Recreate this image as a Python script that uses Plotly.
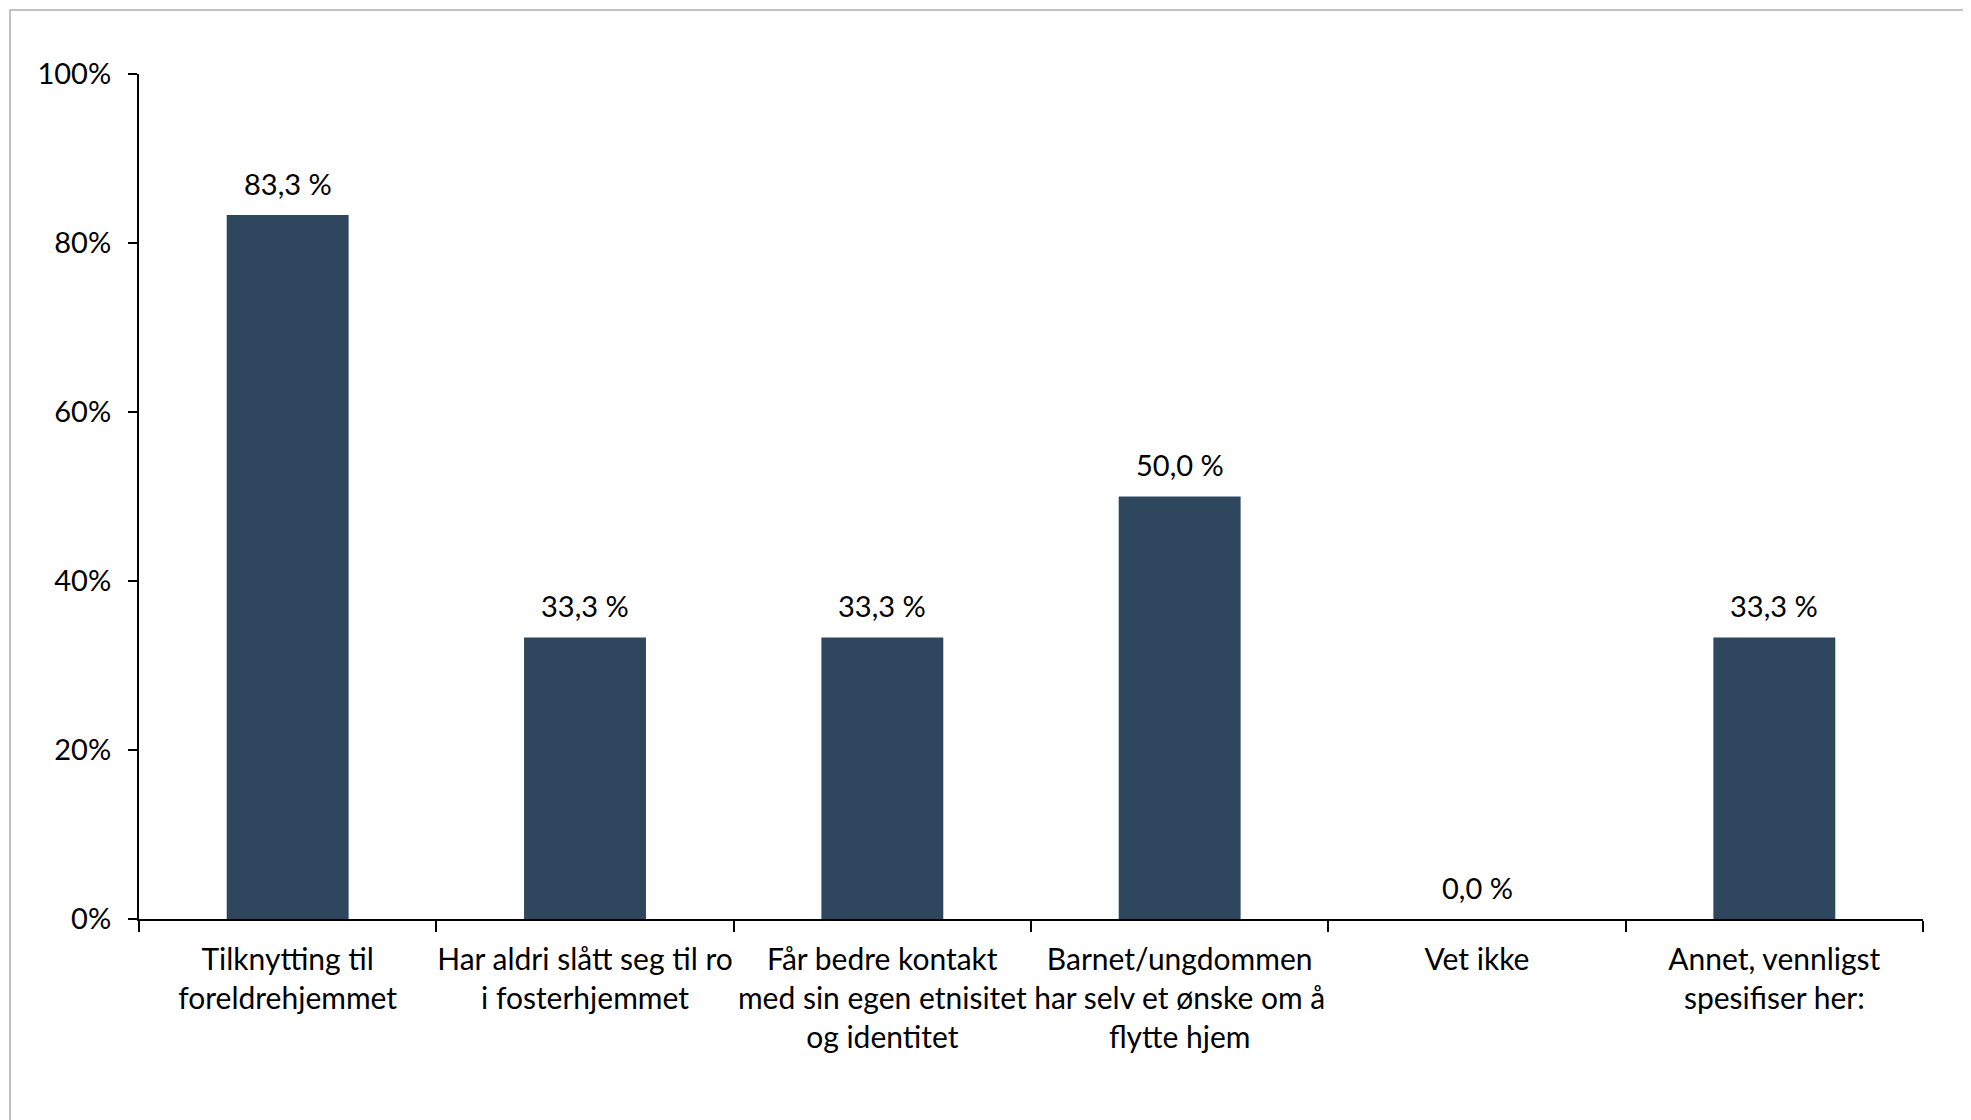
import plotly.graph_objects as go

categories = [
    "Tilknytting til<br>foreldrehjemmet",
    "Har aldri slått seg til ro<br>i fosterhjemmet",
    "Får bedre kontakt<br>med sin egen etnisitet<br>og identitet",
    "Barnet/ungdommen<br>har selv et ønske om å<br>flytte hjem",
    "Vet ikke",
    "Annet, vennligst<br>spesifiser her:",
]
values = [0.833, 0.333, 0.333, 0.500, 0.000, 0.333]
value_labels = ["83,3 %", "33,3 %", "33,3 %", "50,0 %", "0,0 %", "33,3 %"]
y_tickvals = [0, 0.2, 0.4, 0.6, 0.8, 1.0]
y_ticktext = ["0%", "20%", "40%", "60%", "80%", "100%"]

FONT = "Lato"
BAR_COLOR = "#2E475E"

# page body has an 8px margin, so figure coordinates are offset by 8px
W, H = 1971, 1120
L, R, T, B = 131, 56, 66, 209
pw, ph = W - L - R, H - T - B

fig = go.Figure()
fig.add_trace(go.Bar(
    x=categories, y=values,
    marker=dict(color=BAR_COLOR, line=dict(width=0)),
    hoverinfo="skip",
))

for c, v, t in zip(categories, values, value_labels):
    fig.add_annotation(
        x=c, y=v, xref="x", yref="y", text=t, showarrow=False,
        yanchor="middle", yshift=32,
        font=dict(family=FONT, size=29, color="#000000"),
    )

# outer chart frame (only top and left edges visible in the picture)
fig.add_shape(
    type="rect", xref="paper", yref="paper",
    x0=(2 - L) / pw, x1=1.2, y0=-0.6, y1=1 + (T - 2) / ph,
    line=dict(color="#ADADAD", width=1.5), fillcolor="rgba(0,0,0,0)",
    layer="below",
)

fig.update_layout(
    width=W, height=H,
    margin=dict(l=L, r=R, t=T, b=B, pad=0),
    paper_bgcolor="white", plot_bgcolor="white",
    bargap=0.59, showlegend=False,
    font=dict(family=FONT, size=29, color="#000000"),
)
fig.update_xaxes(
    type="category", tickson="boundaries",
    showline=True, linecolor="#000000", linewidth=2,
    ticks="outside", ticklen=11, tickwidth=1.5, tickcolor="#000000",
    showgrid=False, zeroline=False,
    tickfont=dict(family=FONT, size=30, color="#000000"),
    ticklabelstandoff=13, tickangle=0,
)
fig.update_yaxes(
    range=[0, 1], tickvals=y_tickvals, ticktext=y_ticktext,
    showline=True, linecolor="#000000", linewidth=2,
    ticks="outside", ticklen=9, tickwidth=1.5, tickcolor="#000000",
    showgrid=False, zeroline=False,
    tickfont=dict(family=FONT, size=29, color="#000000"),
    ticklabelstandoff=11,
)

fig.write_html("out.html")
